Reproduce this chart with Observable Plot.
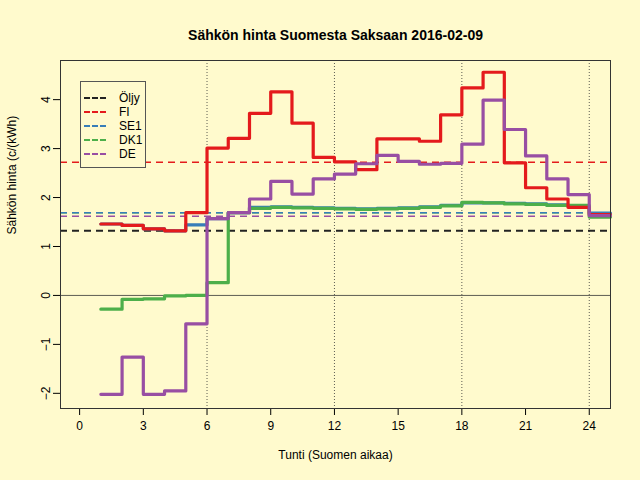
<!DOCTYPE html>
<html><head><meta charset="utf-8">
<script src="https://cdn.jsdelivr.net/npm/d3@7"></script>
<script src="https://cdn.jsdelivr.net/npm/@observablehq/plot@0.6"></script>
<style>
body{margin:0;background:#FFFACD;font-family:"Liberation Sans",Arial,sans-serif}
#wrap{position:relative;width:640px;height:480px}
#legend{position:absolute;left:80px;top:81px;width:66px;height:87px;border:1px solid #555;font-size:12px;line-height:14px;padding-top:9px;box-sizing:border-box;background:#FFFACD}
#legend div{display:flex;align-items:center;white-space:nowrap}
#legend span.l{display:inline-block;width:22px;margin:0 13px 0 3px;border-top:2px dashed}
</style></head><body>
<div id="wrap"><div id="chart"></div><div id="legend"></div></div>
<script>
const hours = d3.range(1, 26);
const FI  = [1.46,1.43,1.36,1.32,1.69,3.01,3.21,3.72,4.16,3.52,2.82,2.73,2.57,3.20,3.20,3.15,3.69,4.24,4.56,2.71,2.20,1.97,1.80,1.65];
const SE1 = [1.46,1.43,1.36,1.32,1.44,1.57,1.69,1.80,1.81,1.80,1.79,1.78,1.77,1.78,1.79,1.81,1.84,1.89,1.89,1.88,1.87,1.85,1.82,1.68];
const DK1 = [-0.28,-0.08,-0.07,-0.01,0.00,0.26,1.69,1.78,1.80,1.79,1.78,1.77,1.76,1.77,1.78,1.80,1.83,1.90,1.89,1.87,1.86,1.84,1.84,1.60];
const DE  = [-2.02,-1.26,-2.02,-1.95,-0.58,1.57,1.69,1.97,2.33,2.07,2.38,2.48,2.69,2.86,2.74,2.68,2.70,3.09,3.99,3.39,2.85,2.38,2.06,1.63];
const names = ["Öljy","FI","SE1","DK1","DE"];
const colors = ["#222222","#E41A1C","#377EB8","#4DAF4A","#984EA3"];
const means = [1.32,2.72,1.69,1.69,1.62];
const seriesVals = {FI, SE1, DK1, DE};
const rows = [];
for (const k of ["SE1","DK1","FI","DE"]) {
  const v = seriesVals[k];
  hours.forEach((h,i)=>rows.push({h, v: v[Math.min(i, v.length-1)], s:k}));
}
const color = d3.scaleOrdinal(names, colors);
const meanRows = names.map((n,i)=>({s:n, m:means[i]}));
const plot = Plot.plot({
  width:640, height:480, marginLeft:60, marginRight:30, marginTop:60, marginBottom:72,
  style:{background:"#FFFACD", fontFamily:"Liberation Sans, Arial, sans-serif", fontSize:"12px", color:"#000"},
  x:{domain:[-0.9,25], ticks:d3.range(0,25,3), tickSize:7, label:null, tickPadding:6},
  y:{domain:[-2.31,4.8], ticks:d3.range(-2,5), tickSize:7, label:null, tickRotate:-90, tickPadding:4},
  marks:[
    Plot.ruleX([6,12,18,24],{stroke:"#333",strokeDasharray:"1,2",strokeWidth:0.8}),
    Plot.ruleY([0],{stroke:"#333",strokeWidth:0.8}),
    Plot.ruleY(meanRows.slice().reverse(),{y:"m",stroke:d=>color(d.s),strokeDasharray:"7,5",strokeWidth:d=>d.s==="Öljy"?2:1.5}),
    Plot.line(rows,{x:"h",y:"v",z:"s",stroke:d=>color(d.s),curve:"step-after",strokeWidth:3.2}),
    Plot.frame({stroke:"#333"}),
    Plot.text(["Sähkön hinta Suomesta Saksaan 2016-02-09"],{frameAnchor:"top",dy:-30,fontSize:14,fontWeight:"bold"}),
    Plot.text(["Tunti (Suomen aikaa)"],{frameAnchor:"bottom",dy:50,fontSize:12}),
    Plot.text(["Sähkön hinta (c/(kWh)"],{frameAnchor:"left",dx:-48,rotate:-90,fontSize:12})
  ]
});
document.getElementById("chart").appendChild(plot);
const lg = document.getElementById("legend");
names.forEach((n,i)=>{const d=document.createElement("div");d.innerHTML=`<span class="l" style="border-color:${colors[i]}"></span>${n}`;lg.appendChild(d);});
</script></body></html>
